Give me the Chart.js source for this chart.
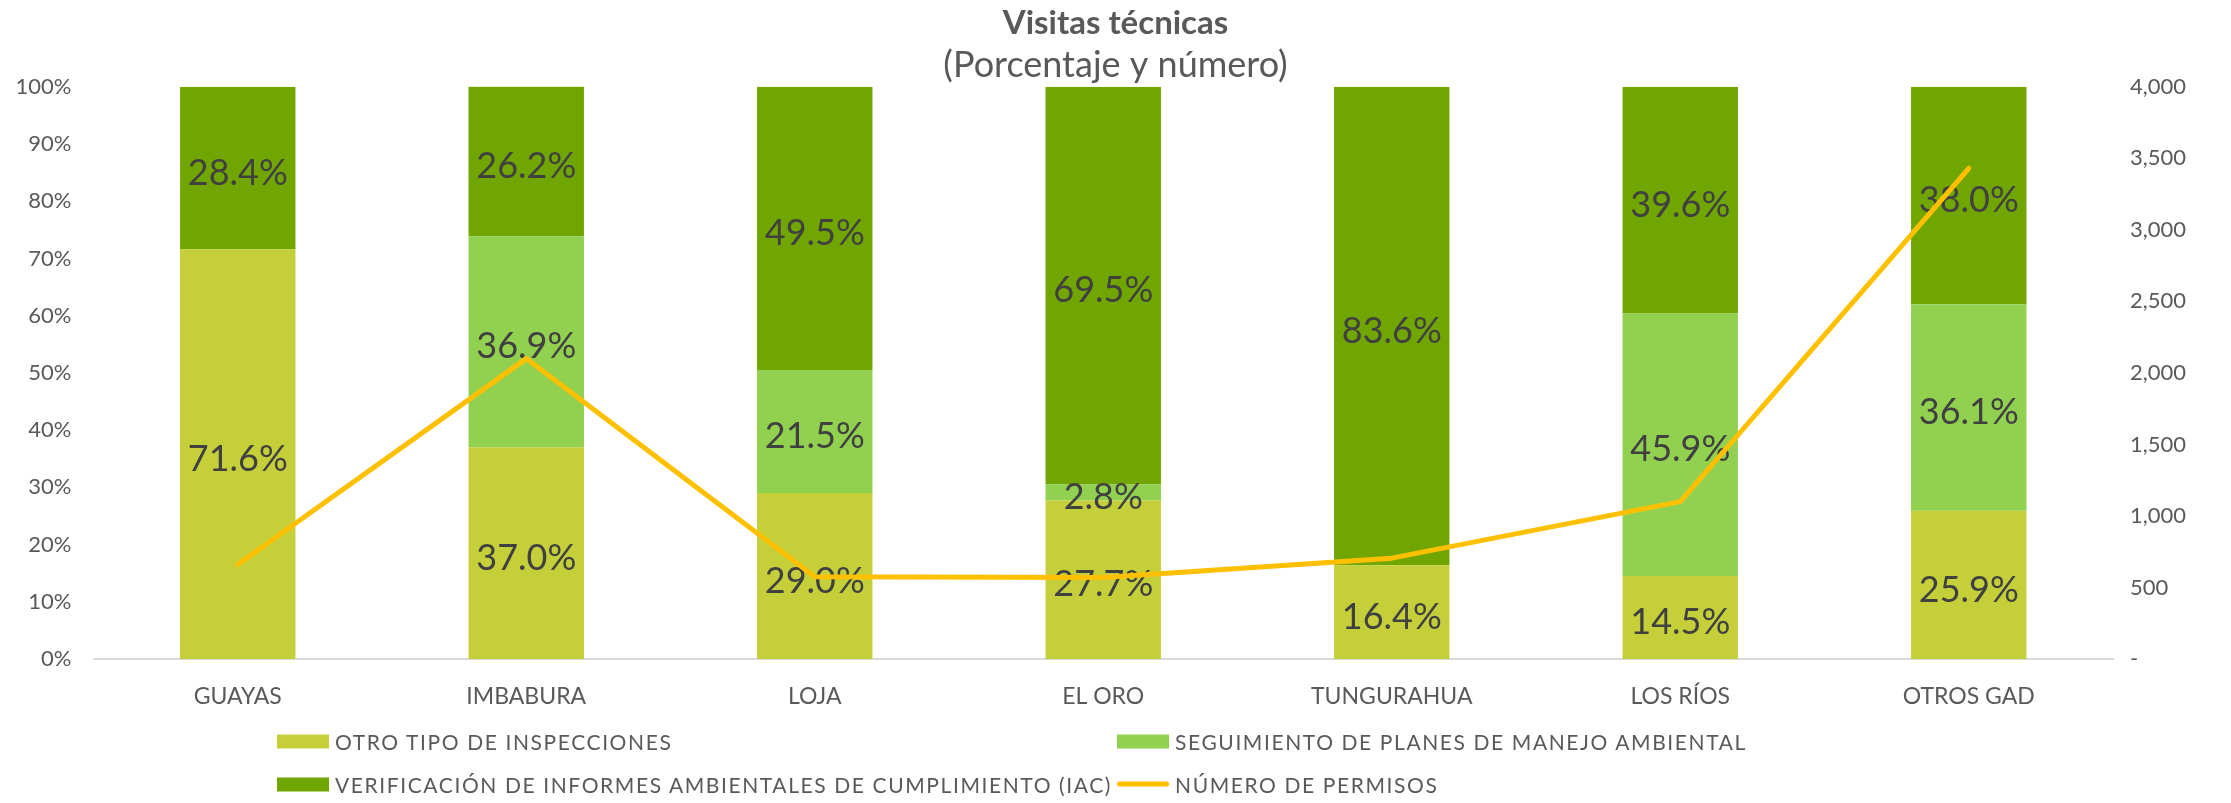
<!DOCTYPE html>
<html lang="es">
<head>
<meta charset="utf-8">
<title>Visitas técnicas</title>
<script src="https://cdn.jsdelivr.net/npm/chart.js@4.4.1/dist/chart.umd.min.js"></script>
<style>
  body { margin: 0; background: #fff; }
  #wrap { position: relative; width: 2231px; height: 803px; }
  #legend { position: absolute; left: 0; top: 0; width: 100%; height: 100%; pointer-events: none; font-family: Lato, sans-serif; }
  .item { position: absolute; display: flex; align-items: center; font-size: 21px; color: #595959; letter-spacing: 1.6px; white-space: nowrap; transform: translateY(-50%); }
  .box { width: 52px; height: 14px; margin-right: 6px; }
  .ln { width: 52px; height: 5px; border-radius: 3px; margin-right: 6px; }
</style>
</head>
<body>
<div id="wrap">
  <canvas id="visitasChart" width="2231" height="803"></canvas>
  <div id="legend"></div>
</div>
<script>
// datos
const categories = ['GUAYAS', 'IMBABURA', 'LOJA', 'EL ORO', 'TUNGURAHUA', 'LOS RÍOS', 'OTROS GAD'];
const otroTipo = [71.6, 37.0, 29.0, 27.7, 16.4, 14.5, 25.9];
const seguimiento = [0, 36.9, 21.5, 2.8, 0, 45.9, 36.1];
const verificacion = [28.4, 26.2, 49.5, 69.5, 83.6, 39.6, 38.0];
const permisos = [660, 2100, 575, 570, 705, 1100, 3430];
const seriesNames = [
  'OTRO TIPO DE INSPECCIONES',
  'SEGUIMIENTO DE PLANES DE MANEJO AMBIENTAL',
  'VERIFICACIÓN DE INFORMES AMBIENTALES DE CUMPLIMIENTO (IAC)',
  'NÚMERO DE PERMISOS'
];

const txtColor = '#595959';
const tickFont = { family: 'Lato', size: 22 };

// etiquetas dentro de cada segmento (encima de las barras, debajo de la linea)
const barLabels = {
  id: 'barLabels',
  afterDatasetDraw(chart, args) {
    // la serie 0 es la ultima barra que se dibuja
    if (args.index !== 0) return;
    const ctx = chart.ctx;
    ctx.save();
    ctx.font = '36px Lato';
    ctx.fillStyle = '#404040';
    ctx.textAlign = 'center';
    ctx.textBaseline = 'middle';
    chart.data.datasets.forEach((ds, d) => {
      if (ds.type === 'line') return;
      chart.getDatasetMeta(d).data.forEach((bar, i) => {
        const v = ds.data[i];
        if (!v) return;
        ctx.fillText(v.toFixed(1) + '%', bar.x, (bar.y + bar.base) / 2 + 5);
      });
    });
    ctx.restore();
  }
};

// leyenda html en dos columnas
const htmlLegend = {
  id: 'htmlLegend',
  afterUpdate(chart) {
    const el = document.getElementById('legend');
    el.innerHTML = '';
    const cols = [277, 1117];
    const rows = [741, 784];
    chart.data.datasets.forEach((ds, i) => {
      const item = document.createElement('div');
      item.className = 'item';
      item.style.left = cols[i % 2] + 'px';
      item.style.top = rows[Math.floor(i / 2)] + 'px';
      const mark = document.createElement('span');
      mark.className = ds.type === 'line' ? 'ln' : 'box';
      mark.style.background = ds.type === 'line' ? ds.borderColor : ds.backgroundColor;
      item.appendChild(mark);
      item.appendChild(document.createTextNode(ds.label));
      el.appendChild(item);
    });
  }
};

new Chart(document.getElementById('visitasChart'), {
  type: 'bar',
  data: {
    labels: categories,
    datasets: [
      { label: seriesNames[0], data: otroTipo, backgroundColor: '#C4CF3A', order: 1 },
      { label: seriesNames[1], data: seguimiento, backgroundColor: '#92D050', order: 1 },
      { label: seriesNames[2], data: verificacion, backgroundColor: '#71A600', order: 1 },
      {
        type: 'line', label: seriesNames[3], data: permisos, yAxisID: 'y1', order: 0,
        borderColor: '#FFC000', borderWidth: 5, pointRadius: 0,
        borderCapStyle: 'round', borderJoinStyle: 'round', tension: 0
      }
    ]
  },
  options: {
    responsive: false,
    animation: false,
    categoryPercentage: 1,
    barPercentage: 0.4,
    layout: { padding: { left: 0, right: 0, top: 0, bottom: 84 } },
    plugins: {
      legend: { display: false },
      tooltip: { enabled: false },
      title: {
        display: true, text: 'Visitas técnicas', color: txtColor,
        font: { family: 'Lato', size: 33, weight: 'bold' },
        padding: { top: 4, bottom: 0 }
      },
      subtitle: {
        display: true, text: '(Porcentaje y número)', color: txtColor,
        font: { family: 'Lato', size: 36 },
        padding: { top: 0, bottom: 0 }
      }
    },
    scales: {
      x: {
        stacked: true,
        grid: { display: false },
        border: { color: '#D9D9D9', width: 2 },
        ticks: { color: txtColor, font: { family: 'Lato', size: 23 }, padding: 16 },
        afterFit(s) { s.height = 60; }
      },
      y: {
        stacked: true, min: 0, max: 100,
        grid: { display: false, drawTicks: false },
        border: { display: false },
        ticks: { stepSize: 10, color: txtColor, font: tickFont, padding: 22, callback: v => v + '%' },
        afterFit(s) { s.width = 93.5; }
      },
      y1: {
        position: 'right', min: 0, max: 4000,
        grid: { display: false, drawTicks: false },
        border: { display: false },
        ticks: {
          stepSize: 500, color: txtColor, font: tickFont, padding: 17,
          callback: v => v === 0 ? '-' : v.toLocaleString('en-US')
        },
        afterFit(s) { s.width = 118; }
      }
    }
  },
  plugins: [barLabels, htmlLegend]
});
</script>
</body>
</html>
